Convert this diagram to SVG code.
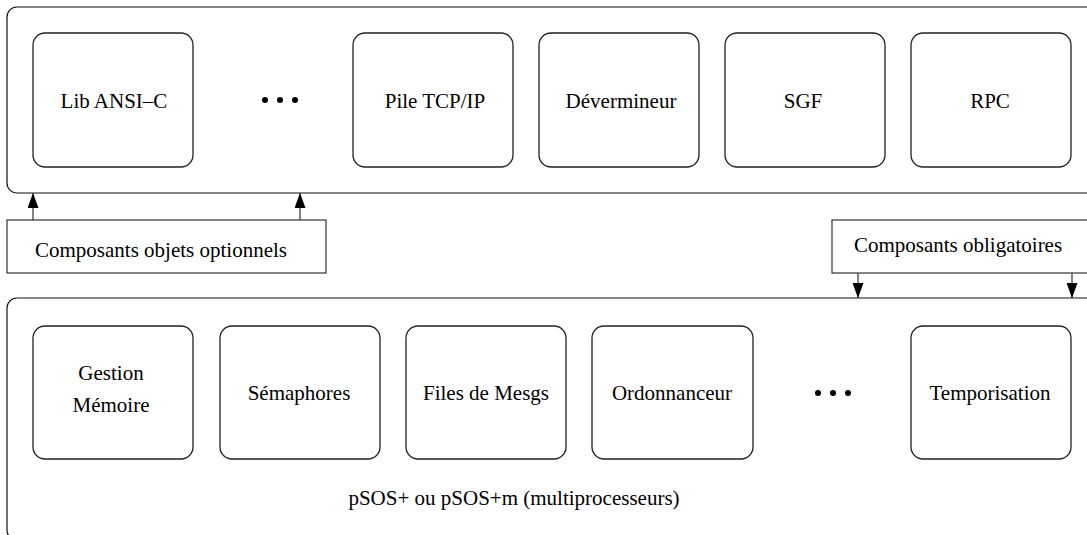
<svg xmlns="http://www.w3.org/2000/svg" width="1087" height="535" viewBox="0 0 1087 535">
  <style>
    .frame { fill: #fff; stroke: #111; stroke-width: 1.2; }
    .comp { fill: #fff; stroke: #222; stroke-width: 1.3; }
    .tag { fill: #fff; stroke: #222; stroke-width: 1.1; }
    .lbl { font-family: "Liberation Serif", "Times New Roman", serif; font-size: 21px; fill: #000; text-anchor: middle; }
    .link { stroke: #333; stroke-width: 1.2; fill: none; }
    .dot { fill: #000; }
  </style>
  <defs>
    <marker id="head" viewBox="0 0 15 11" refX="15" refY="5.5" markerWidth="15" markerHeight="11" markerUnits="userSpaceOnUse" orient="auto">
      <path d="M0,0 L15,5.5 L0,11 Z" fill="#000"/>
    </marker>
  </defs>

  <!-- optional object components layer -->
  <g id="optional-layer">
    <rect class="frame" x="7" y="7" width="1100" height="186" rx="10"/>
  </g>
  <g id="lib-ansi-c">
    <rect class="comp" x="33" y="33" width="160" height="134" rx="12"/>
    <text class="lbl" x="114" y="108">Lib ANSI–C</text>
  </g>
  <g id="dots-top">
    <circle class="dot" cx="265" cy="100" r="3"/>
    <circle class="dot" cx="280" cy="100" r="3"/>
    <circle class="dot" cx="295" cy="100" r="3"/>
  </g>
  <g id="pile-tcp-ip">
    <rect class="comp" x="353" y="33" width="160" height="134" rx="12"/>
    <text class="lbl" x="435" y="108">Pile TCP/IP</text>
  </g>
  <g id="devermineur">
    <rect class="comp" x="539" y="33" width="160" height="134" rx="12"/>
    <text class="lbl" x="621" y="108">Dévermineur</text>
  </g>
  <g id="sgf">
    <rect class="comp" x="725" y="33" width="160" height="134" rx="12"/>
    <text class="lbl" x="803" y="108">SGF</text>
  </g>
  <g id="rpc">
    <rect class="comp" x="911" y="33" width="160" height="134" rx="12"/>
    <text class="lbl" x="990" y="108">RPC</text>
  </g>

  <!-- labels between the layers -->
  <g id="optional-label">
    <rect class="tag" x="7" y="220" width="319" height="53"/>
    <text class="lbl" x="161" y="257">Composants objets optionnels</text>
  </g>
  <g id="mandatory-label">
    <rect class="tag" x="832" y="220" width="260" height="53"/>
    <text class="lbl" x="958" y="252">Composants obligatoires</text>
  </g>

  <!-- kernel layer -->
  <g id="kernel-layer">
    <rect class="frame" x="7" y="298" width="1100" height="242" rx="10"/>
    <text class="lbl" x="514" y="505">pSOS+ ou pSOS+m (multiprocesseurs)</text>
  </g>
  <g id="gestion-memoire">
    <rect class="comp" x="33" y="326" width="160" height="133" rx="12"/>
    <text class="lbl" x="111" y="380">Gestion</text>
    <text class="lbl" x="111" y="412">Mémoire</text>
  </g>
  <g id="semaphores">
    <rect class="comp" x="220" y="326" width="160" height="133" rx="12"/>
    <text class="lbl" x="299" y="400">Sémaphores</text>
  </g>
  <g id="files-de-mesgs">
    <rect class="comp" x="406" y="326" width="160" height="133" rx="12"/>
    <text class="lbl" x="486" y="400">Files de Mesgs</text>
  </g>
  <g id="ordonnanceur">
    <rect class="comp" x="592" y="326" width="161" height="133" rx="12"/>
    <text class="lbl" x="672" y="400">Ordonnanceur</text>
  </g>
  <g id="dots-bottom">
    <circle class="dot" cx="818" cy="393" r="3"/>
    <circle class="dot" cx="833" cy="393" r="3"/>
    <circle class="dot" cx="848" cy="393" r="3"/>
  </g>
  <g id="temporisation">
    <rect class="comp" x="911" y="326" width="160" height="133" rx="12"/>
    <text class="lbl" x="990" y="400">Temporisation</text>
  </g>

  <!-- connectors -->
  <g id="connectors">
    <line class="link" x1="33" y1="220" x2="33" y2="193" marker-end="url(#head)"/>
    <line class="link" x1="300" y1="220" x2="300" y2="193" marker-end="url(#head)"/>
    <line class="link" x1="858" y1="273" x2="858" y2="298" marker-end="url(#head)"/>
    <line class="link" x1="1072" y1="273" x2="1072" y2="298" marker-end="url(#head)"/>
  </g>
</svg>
